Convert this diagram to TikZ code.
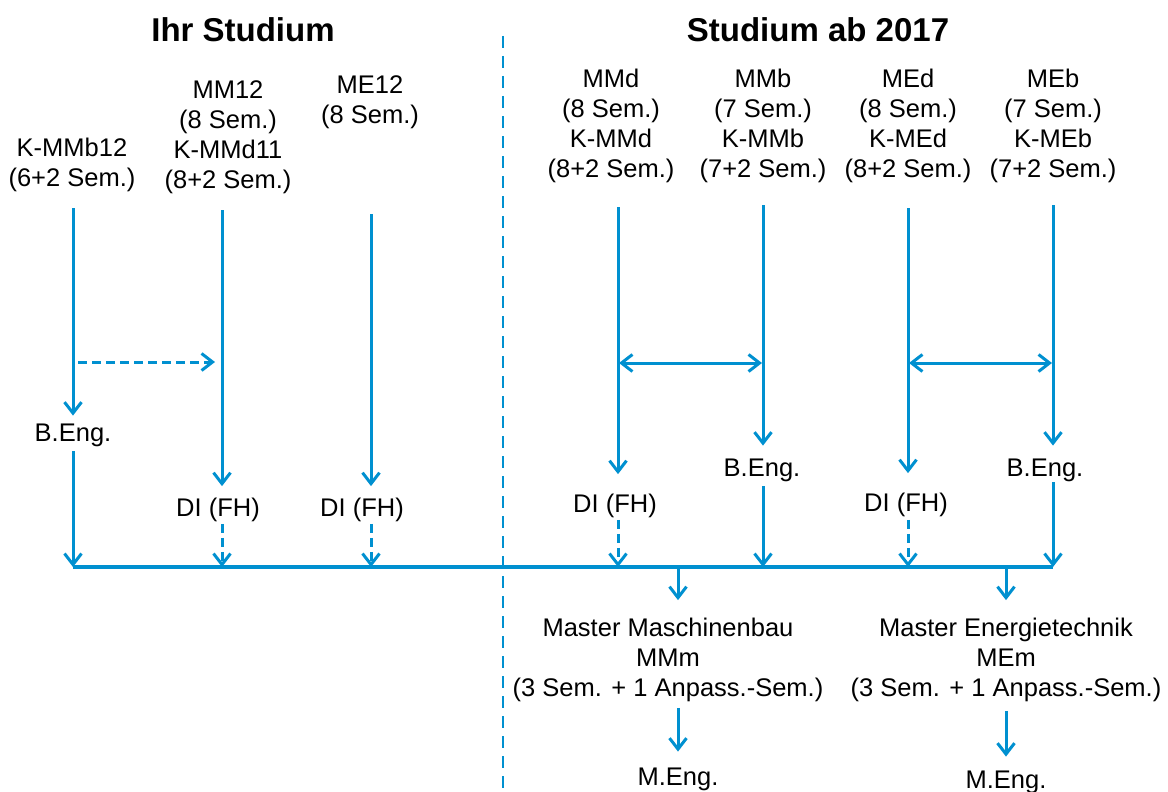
\documentclass[tikz,border=0pt]{standalone}
\usepackage{fontspec}
\setmainfont{Liberation Sans}
\usetikzlibrary{arrows.meta}
\definecolor{hsblue}{RGB}{0,144,208}
\begin{document}
\begin{tikzpicture}[x=1pt,y=-1pt,
  conn/.style={draw=hsblue, line width=3pt, -{Straight Barb[length=11pt,width=17pt]}},
  dconn/.style={conn, dash pattern=on 9pt off 5pt},
  both/.style={draw=hsblue, line width=3pt, {Straight Barb[length=11pt,width=17pt]}-{Straight Barb[length=11pt,width=17pt]}},
  bar/.style={draw=hsblue, line width=4pt},
  divider/.style={draw=hsblue, line width=1.5pt, dash pattern=on 12pt off 8pt},
  lbl/.style={font=\fontsize{25.5}{30}\selectfont, align=center, inner sep=0pt, outer sep=0pt, text=black},
  ttl/.style={font=\bfseries\fontsize{33}{38}\selectfont, inner sep=0pt, text=black}
]
\useasboundingbox (0,0) rectangle (1168,792);

% titles and divider
\node[ttl] (t1) at (243,30) {Ihr Studium};
\node[ttl] (t2) at (818,30) {Studium ab 2017};
\coordinate (v1) at (503,36);
\coordinate (v2) at (503,792);
\draw[divider] (v1) -- (v2);

% programme labels
\node[lbl] (p1) at (72,165) {K-MMb12\\(6+2 Sem.)};
\node[lbl] (p2) at (228,137) {MM12\\(8 Sem.)\\K-MMd11\\(8+2 Sem.)};
\node[lbl] (p3) at (370,102) {ME12\\(8 Sem.)};
\node[lbl] (p4) at (611,126) {MMd\\(8 Sem.)\\K-MMd\\(8+2 Sem.)};
\node[lbl] (p5) at (763,126) {MMb\\(7 Sem.)\\K-MMb\\(7+2 Sem.)};
\node[lbl] (p6) at (908,126) {MEd\\(8 Sem.)\\K-MEd\\(8+2 Sem.)};
\node[lbl] (p7) at (1053,126) {MEb\\(7 Sem.)\\K-MEb\\(7+2 Sem.)};

% degrees
\node[lbl] (bA) at (73,435) {B.Eng.};
\node[lbl] (dA) at (218,510) {DI (FH)};
\node[lbl] (dB) at (362,510) {DI (FH)};
\node[lbl] (dC) at (615,506) {DI (FH)};
\node[lbl] (bB) at (762,470) {B.Eng.};
\node[lbl] (dD) at (906,505) {DI (FH)};
\node[lbl] (bC) at (1045,470) {B.Eng.};

% masters
\node[lbl] (mA) at (668,660) {Master Maschinenbau\\MMm\\(3 Sem. + 1 Anpass.-Sem.)};
\node[lbl] (mB) at (1006,660) {Master Energietechnik\\MEm\\(3 Sem. + 1 Anpass.-Sem.)};
\node[lbl] (eA) at (678,779) {M.Eng.};
\node[lbl] (eB) at (1006,782) {M.Eng.};

% line tops
\coordinate (c1) at (73,208);
\coordinate (c2) at (222,210);
\coordinate (c3) at (371,214);
\coordinate (c4) at (618,207);
\coordinate (c5) at (763,205);
\coordinate (c6) at (908,208);
\coordinate (c7) at (1053,205);

% bar junctions
\coordinate (j1) at (73,567);
\coordinate (j2) at (222,567);
\coordinate (j3) at (371,567);
\coordinate (j4) at (618,567);
\coordinate (j5) at (763,567);
\coordinate (j6) at (908,567);
\coordinate (j7) at (1053,567);
\coordinate (k1) at (678,567);
\coordinate (k2) at (1006,567);

% cross-links
\coordinate (h1) at (78,362);
\coordinate (h2) at (215,362);
\coordinate (x1) at (619,363);
\coordinate (x2) at (762,363);
\coordinate (x3) at (909,363);
\coordinate (x4) at (1052,363);

% bar
\draw[bar] (j1) -- (j7);

% verticals to degrees
\draw[conn, shorten >=8pt] (c1) -- (c1 |- bA.north);
\draw[conn, shorten >=12pt] (c2) -- (c2 |- dA.north);
\draw[conn, shorten >=12pt] (c3) -- (c3 |- dB.north);
\draw[conn, shorten >=20pt] (c4) -- (c4 |- dC.north);
\draw[conn, shorten >=13pt] (c5) -- (c5 |- bB.north);
\draw[conn, shorten >=20pt] (c6) -- (c6 |- dD.north);
\draw[conn, shorten >=13pt] (c7) -- (c7 |- bC.north);

% degrees to bar
\draw[conn, shorten <=5pt] (bA.south -| j1) -- (j1);
\draw[dconn, shorten <=2pt] (dA.south -| j2) -- (j2);
\draw[dconn, shorten <=2pt] (dB.south -| j3) -- (j3);
\draw[dconn, shorten <=2pt] (dC.south -| j4) -- (j4);
\draw[conn, shorten <=5pt] (bB.south -| j5) -- (j5);
\draw[dconn, shorten <=3pt] (dD.south -| j6) -- (j6);
\draw[conn, shorten <=1pt] (bC.south -| j7) -- (j7);

% cross-links
\draw[dconn] (h1) -- (h2);
\draw[both] (x1) -- (x2);
\draw[both] (x3) -- (x4);

% bar to masters
\draw[conn, shorten >=18pt] (k1) -- (k1 |- mA.north);
\draw[conn, shorten >=18pt] (k2) -- (k2 |- mB.north);

% masters to M.Eng.
\draw[conn, shorten <=6pt, shorten >=16pt] (mA.south -| eA) -- (eA.north);
\draw[conn, shorten <=9pt, shorten >=14pt] (mB.south) -- (eB.north);
\end{tikzpicture}
\end{document}
